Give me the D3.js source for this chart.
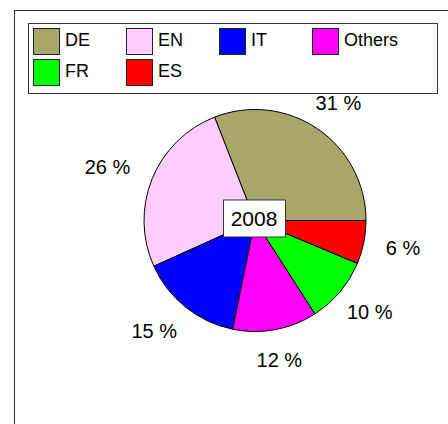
<!DOCTYPE html>
<html><head><meta charset="utf-8">
<script src="https://cdn.jsdelivr.net/npm/d3@7"></script>
<style>
html,body{margin:0;padding:0;background:#fff;}
svg{display:block;font-family:"Liberation Sans",Arial,sans-serif;}
</style></head>
<body>
<svg id="chart" width="448" height="424"></svg>
<script>
const categories = ["DE", "EN", "IT", "Others", "FR", "ES"];
const values = [30.9, 25.8, 15.0, 12.3, 9.6, 6.3];
const colors = ["#A9A66A", "#FFCCFF", "#0000FF", "#FF00FF", "#00FF00", "#FF0000"];
const title = "2008";

const W = 448, H = 424;
const svg = d3.select("#chart");

// outer frame (extends past the window on right/bottom)
svg.append("rect").attr("x", 14.5).attr("y", 10.5).attr("width", 460).attr("height", 440)
  .attr("fill", "#fff").attr("stroke", "#333").attr("stroke-width", 1);

// legend
const legend = svg.append("g");
legend.append("rect").attr("x", 28.5).attr("y", 23.5).attr("width", 409).attr("height", 70)
  .attr("fill", "#fff").attr("stroke", "#333").attr("stroke-width", 1);
const perRow = 4;
const colX = d3.scaleLinear().domain([0, 1]).range([33, 126]);
const rowY = d3.scaleLinear().domain([0, 1]).range([28, 59]);
categories.forEach((c, i) => {
  const col = i % perRow, row = Math.floor(i / perRow);
  const g = legend.append("g").attr("transform", `translate(${colX(col)},${rowY(row)})`);
  g.append("rect").attr("x", 0.5).attr("y", 0.5).attr("width", 26).attr("height", 26)
    .attr("fill", colors[i]).attr("stroke", "#222").attr("stroke-width", 1);
  g.append("text").attr("x", 32).attr("y", 18).attr("font-size", 18).attr("fill", "#000").text(c);
});

// pie
const cx = 255, cy = 220.5, r = 111;
const pie = d3.pie().sort(null).value(d => d).startAngle(Math.PI / 2).endAngle(Math.PI / 2 - 2 * Math.PI);
const arcs = pie(values);
const arc = d3.arc().innerRadius(0).outerRadius(r);
const total = d3.sum(values);
const color = d3.scaleOrdinal().domain(categories).range(colors);

const pg = svg.append("g").attr("transform", `translate(${cx},${cy})`);
pg.selectAll("path.slice").data(arcs).enter().append("path")
  .attr("class", "slice")
  .attr("d", arc)
  .attr("fill", (d, i) => color(categories[i]))
  .attr("stroke", "#000").attr("stroke-width", 1).attr("stroke-linejoin", "round");

// labels
const A = 155, B = 142, dxL = -4;
pg.selectAll("text.lbl").data(arcs).enter().append("text")
  .attr("class", "lbl")
  .attr("x", d => dxL + A * Math.sin((d.startAngle + d.endAngle) / 2))
  .attr("y", d => -B * Math.cos((d.startAngle + d.endAngle) / 2))
  .attr("text-anchor", "middle").attr("dominant-baseline", "central")
  .attr("font-size", 20).attr("fill", "#000")
  .text(d => Math.round(d.value / total * 100) + " %");

// center title box
const tg = pg.append("g").attr("transform", "translate(-1,-2)");
tg.append("rect").attr("x", -30.5).attr("y", -18.5).attr("width", 62).attr("height", 37)
  .attr("fill", "#fff").attr("stroke", "#333").attr("stroke-width", 1);
tg.append("text").attr("x", 0).attr("y", 0).attr("text-anchor", "middle")
  .attr("dominant-baseline", "central").attr("font-size", 21).attr("fill", "#000").text(title);
</script>
</body></html>
